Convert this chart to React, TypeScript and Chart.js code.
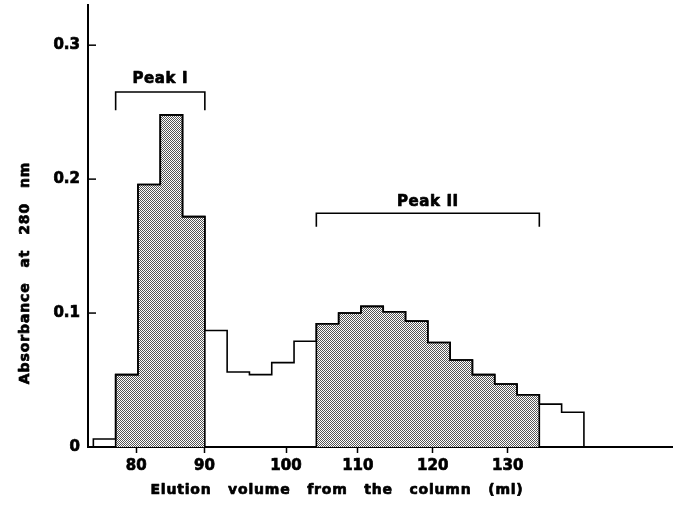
import React, { useEffect, useRef } from 'react';
import { Chart, registerables } from 'chart.js';

Chart.register(...registerables);

// Absorbance at 280 nm of each collected fraction, in elution order
const fractionAbsorbance = [
  0.006, 0.054, 0.196, 0.248, 0.172, 0.087, 0.056, 0.054, 0.063, 0.079, 0.092,
  0.1, 0.105, 0.101, 0.094, 0.078, 0.065, 0.054, 0.047, 0.039, 0.032, 0.026,
];

// Elution-volume tick labels (ml) and the fraction boundary where each mark falls
const volumeTickLabels = ['80', '90', '100', '110', '120', '130'];
const volumeTickFraction = [1.92, 4.98, 8.64, 11.86, 15.22, 18.58];

const absorbanceTicks = [0, 0.1, 0.2, 0.3];

// Pooled peaks: first fraction and the boundary after the last fraction
const peakNames = ['Peak I', 'Peak II'];
const peakFirstFraction = [1, 10];
const peakEndFraction = [5, 20];
const bracketLevel = [0.265, 0.1745];
const bracketFootLevel = [0.2515, 0.1645];
const peakLabelLevel = [0.2745, 0.1825];

const xTitle = 'Elution volume from the column (ml)';
const yTitle = 'Absorbance at 280 nm';

const FONT = '"DejaVu Sans", "Liberation Sans", sans-serif';

export default function App() {
  const ref = useRef<HTMLCanvasElement>(null);

  useEffect(() => {
    const canvas = ref.current;
    if (!canvas) return;
    const tile = document.createElement('canvas');
    tile.width = 2;
    tile.height = 2;
    const tctx = tile.getContext('2d')!;
    tctx.fillStyle = '#ffffff';
    tctx.fillRect(0, 0, 2, 2);
    tctx.fillStyle = '#555555';
    tctx.fillRect(0, 0, 1, 1);
    tctx.fillRect(1, 1, 1, 1);
    const pattern = canvas.getContext('2d')!.createPattern(tile, 'repeat');

    const n = fractionAbsorbance.length;
    const outline = [
      { x: 0, y: 0 },
      ...fractionAbsorbance.map((v, i) => ({ x: i, y: v })),
      { x: n, y: 0 },
    ];
    const shade = (a: number, b: number) => [
      { x: a, y: 0 },
      ...fractionAbsorbance.slice(a, b).map((v, k) => ({ x: a + k, y: v })),
      { x: b, y: 0 },
    ];
    const bracket = (i: number) => [
      { x: peakFirstFraction[i], y: bracketFootLevel[i] },
      { x: peakFirstFraction[i], y: bracketLevel[i] },
      { x: peakEndFraction[i], y: bracketLevel[i] },
      { x: peakEndFraction[i], y: bracketFootLevel[i] },
    ];

    const shadeSets = peakNames.map((name, i) => ({
      label: name,
      data: shade(peakFirstFraction[i], peakEndFraction[i]),
      showLine: true,
      stepped: 'before' as const,
      fill: 'origin',
      backgroundColor: pattern as any,
      borderColor: '#000',
      borderWidth: 1.6,
      pointRadius: 0,
      order: 3,
    }));
    const bracketSets = peakNames.map((name, i) => ({
      label: name + ' pool',
      data: bracket(i),
      showLine: true,
      fill: false,
      borderColor: '#000',
      borderWidth: 1.6,
      pointRadius: 0,
      order: 1,
    }));

    const heavyText = (ctx: CanvasRenderingContext2D, t: string, x: number, y: number) => {
      ctx.strokeText(t, x, y);
      ctx.fillText(t, x, y);
    };

    const decor = {
      id: 'decor',
      afterDatasetsDraw(chart: any) {
        const { ctx, chartArea, scales } = chart;
        const xs = scales.x;
        const ys = scales.y;
        ctx.save();
        ctx.strokeStyle = '#000';
        ctx.lineWidth = 1.5;
        absorbanceTicks
          .filter((v) => v > 0)
          .forEach((v) => {
            const py = ys.getPixelForValue(v);
            ctx.beginPath();
            ctx.moveTo(chartArea.left, py);
            ctx.lineTo(chartArea.left + 8, py);
            ctx.stroke();
          });
        ctx.fillStyle = '#000';
        ctx.lineWidth = 0.7;
        ctx.lineJoin = 'round';
        ctx.textAlign = 'center';
        ctx.textBaseline = 'middle';
        ctx.font = 'bold 15px ' + FONT;
        (ctx as any).letterSpacing = '0.6px';
        peakNames.forEach((name, i) => {
          const cx = xs.getPixelForValue((peakFirstFraction[i] + peakEndFraction[i]) / 2);
          heavyText(ctx, name, cx, ys.getPixelForValue(peakLabelLevel[i]));
        });
        ctx.font = 'bold 14px ' + FONT;
        (ctx as any).letterSpacing = '0.8px';
        (ctx as any).wordSpacing = '11px';
        heavyText(ctx, xTitle, 337, 490);
        ctx.font = 'bold 14px ' + FONT;
        (ctx as any).letterSpacing = '0.9px';
        (ctx as any).wordSpacing = '9px';
        ctx.translate(25, 273);
        ctx.rotate(-Math.PI / 2);
        heavyText(ctx, yTitle, 0, 0);
        ctx.restore();
      },
    };

    const chart = new Chart(canvas, {
      type: 'scatter',
      data: {
        datasets: [
          ...shadeSets,
          {
            label: 'Absorbance',
            data: outline,
            showLine: true,
            stepped: 'before',
            fill: false,
            borderColor: '#000',
            borderWidth: 1.6,
            pointRadius: 0,
            order: 2,
          },
          ...bracketSets,
        ] as any,
      },
      options: {
        animation: false,
        responsive: true,
        maintainAspectRatio: false,
        layout: { padding: { top: 5, right: 7, left: 0, bottom: 0 } },
        plugins: {
          legend: { display: false },
          tooltip: { enabled: false },
          title: { display: false },
        },
        scales: {
          x: {
            type: 'linear',
            min: -0.24,
            max: 25.95,
            afterBuildTicks: (s: any) => {
              s.ticks = volumeTickFraction.map((v) => ({ value: v }));
            },
            afterFit: (s: any) => {
              s.height = 75;
              s.paddingLeft = 0;
              s.paddingRight = 0;
            },
            ticks: {
              autoSkip: false,
              maxRotation: 0,
              minRotation: 0,
              padding: 4,
              color: '#000',
              textStrokeColor: '#000',
              textStrokeWidth: 0.7,
              font: { family: FONT, size: 15, weight: 'bold' },
              callback: (_v: any, i: number) => volumeTickLabels[i],
            },
            grid: {
              display: true,
              drawOnChartArea: false,
              drawTicks: true,
              tickLength: 6,
              tickWidth: 1.5,
              tickColor: '#000',
            },
            border: { display: true, color: '#000', width: 2 },
          },
          y: {
            type: 'linear',
            min: 0,
            max: 0.33,
            afterBuildTicks: (s: any) => {
              s.ticks = absorbanceTicks.map((v) => ({ value: v }));
            },
            afterFit: (s: any) => {
              s.width = 88;
              s.paddingTop = 0;
              s.paddingBottom = 0;
            },
            ticks: {
              padding: 8,
              color: '#000',
              textStrokeColor: '#000',
              textStrokeWidth: 0.7,
              font: { family: FONT, size: 15, weight: 'bold' },
              callback: (v: any) => (Number(v) === 0 ? '0' : Number(v).toFixed(1)),
            },
            grid: { display: true, drawOnChartArea: false, drawTicks: false },
            border: { display: true, color: '#000', width: 2 },
          },
        },
      } as any,
      plugins: [decor],
    });
    return () => chart.destroy();
  }, []);

  return (
    <div style={{ position: 'fixed', left: 0, top: 0, width: 679, height: 522, background: '#fff' }}>
      <canvas ref={ref} />
    </div>
  );
}
